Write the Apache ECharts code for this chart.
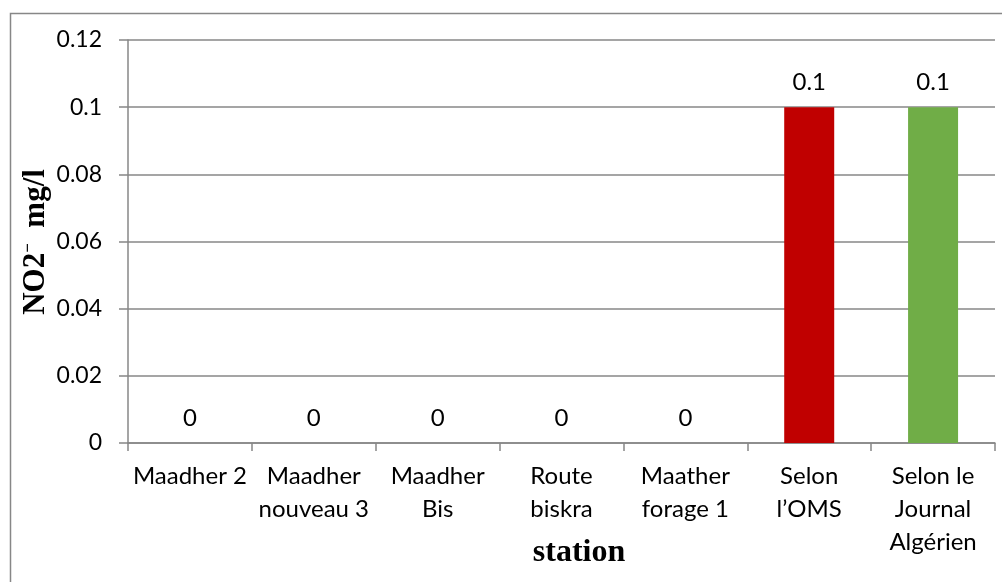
<!DOCTYPE html>
<html>
<head>
<meta charset="utf-8">
<script src="https://cdn.jsdelivr.net/npm/echarts@6/dist/echarts.min.js"></script>
<style>
  html, body { margin: 0; padding: 0; background: #fff; }
  #chart { width: 1002px; height: 582px; }
</style>
</head>
<body>
<div id="chart"></div>
<script>
// stations, with the line breaks used under the axis
const stations = ['Maadher 2', 'Maadher\nnouveau 3', 'Maadher\nBis', 'Route\nbiskra', 'Maather\nforage 1', 'Selon\nl\u2019OMS', 'Selon le\nJournal\nAlgérien'];
const no2Values = [0, 0, 0, 0, 0, 0.1, 0.1];
const barColors = ['#4f81bd', '#4f81bd', '#4f81bd', '#4f81bd', '#4f81bd', '#c00000', '#70ad47'];
const yTicks = { min: 0, max: 0.12, step: 0.02 };

const labelFont = 'Lato, "Open Sans", sans-serif';
const titleFont = '"Liberation Serif", "DejaVu Serif", serif';
const gray = '#878787';

const chart = echarts.init(document.getElementById('chart'));
chart.setOption({
    animation: false,
    grid: { left: 128, right: 7, top: 40, bottom: 139 },
    xAxis: {
        type: 'category',
        data: stations,
        axisLine: { lineStyle: { color: gray, width: 1.5 } },
        axisTick: { show: true, length: 8, lineStyle: { color: gray, width: 1.5 } },
        axisLabel: {
            interval: 0,
            margin: 17,
            color: '#000',
            fontFamily: labelFont,
            fontSize: 24,
            lineHeight: 33
        }
    },
    yAxis: {
        type: 'value',
        min: yTicks.min,
        max: yTicks.max,
        interval: yTicks.step,
        axisLine: { show: true, lineStyle: { color: gray, width: 1.5 } },
        axisTick: { show: true, length: 9, lineStyle: { color: gray, width: 1.5 } },
        splitLine: { lineStyle: { color: gray, width: 1.5 } },
        axisLabel: {
            margin: 26,
            color: '#000',
            fontFamily: labelFont,
            fontSize: 23,
            formatter: v => String(+v.toFixed(2))
        }
    },
    series: [{
        type: 'bar',
        data: no2Values.map((v, i) => ({ value: v, itemStyle: { color: barColors[i] } })),
        barWidth: 50,
        label: {
            show: true,
            position: 'top',
            distance: 13,
            color: '#000',
            fontFamily: labelFont,
            fontSize: 24,
            formatter: p => String(p.value)
        }
    }],
    graphic: [
        {
            type: 'rect',
            shape: { x: 10.5, y: 13.5, width: 1100, height: 700 },
            style: { fill: 'none', stroke: gray, lineWidth: 1.5 },
            silent: true
        },
        {
            type: 'text',
            x: 579,
            y: 553,
            style: {
                text: 'station',
                fontFamily: titleFont,
                fontWeight: 'bold',
                fontSize: 32,
                fill: '#000',
                align: 'center',
                verticalAlign: 'middle'
            }
        },
        {
            type: 'text',
            x: 36,
            y: 242,
            rotation: Math.PI / 2,
            style: {
                text: 'NO2{sup|\u2212}  mg/l',
                fontFamily: titleFont,
                fontWeight: 'bold',
                fontSize: 31,
                fill: '#000',
                align: 'center',
                verticalAlign: 'middle',
                rich: {
                    sup: {
                        fontFamily: titleFont,
                        fontWeight: 'bold',
                        fontSize: 17,
                        fill: '#000',
                        verticalAlign: 'top',
                        padding: [0, 0, 11, 0]
                    }
                }
            }
        }
    ]
});
</script>
</body>
</html>
